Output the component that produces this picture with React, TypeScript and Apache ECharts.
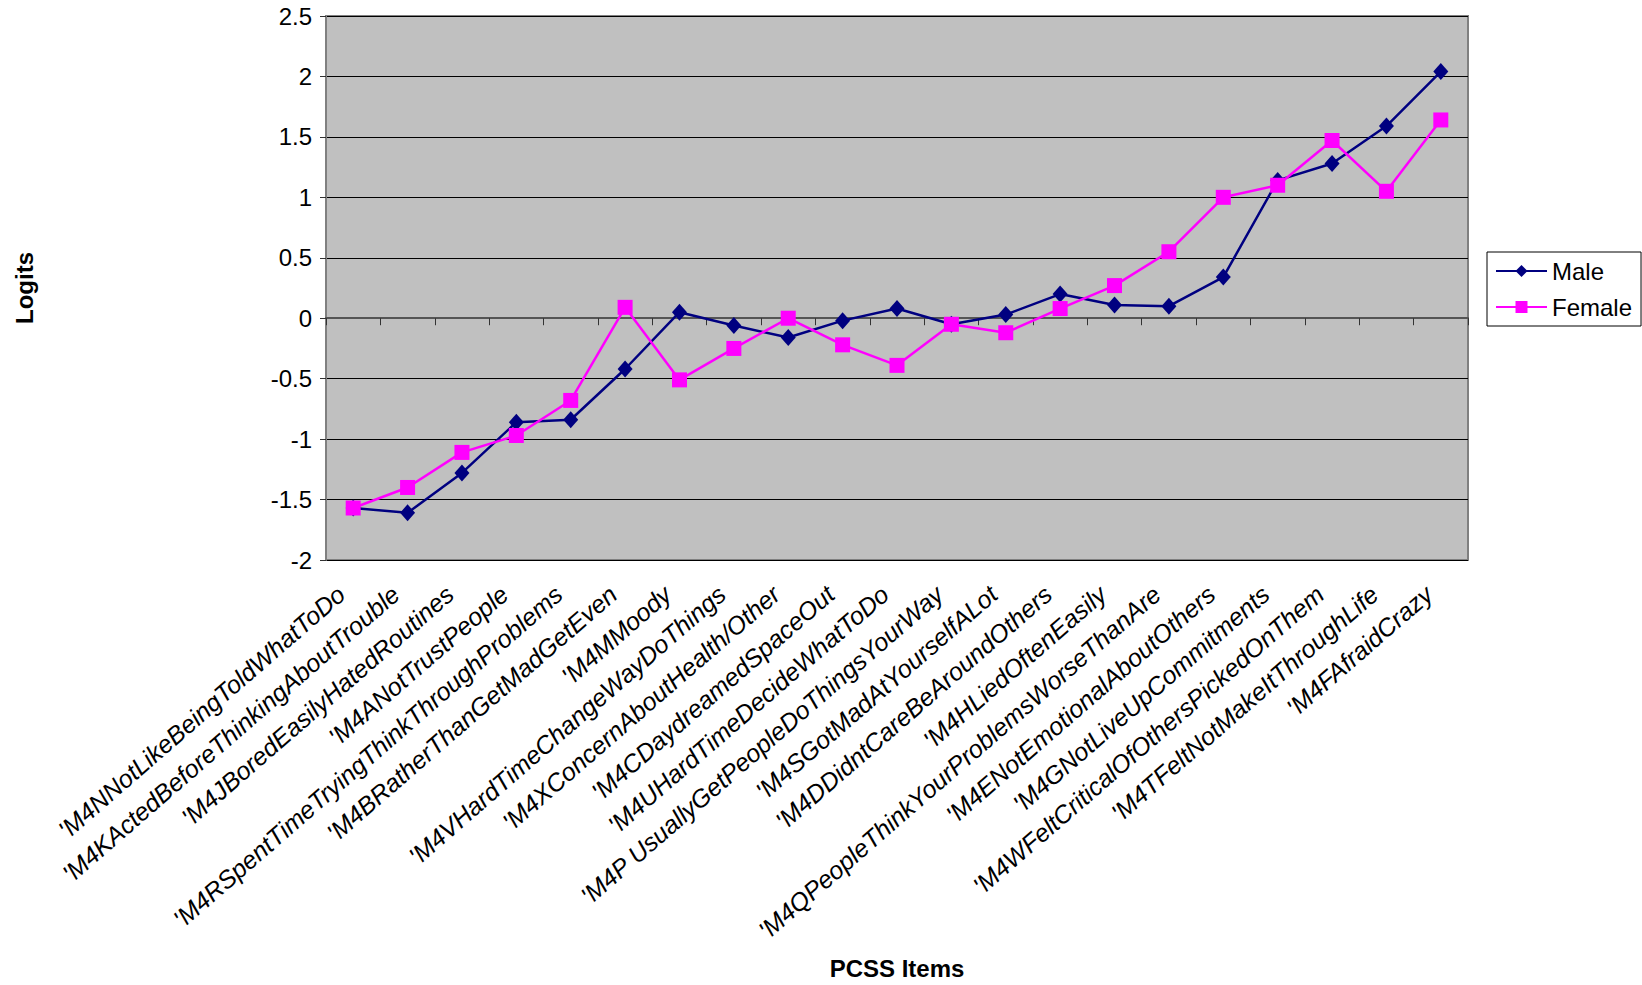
import React, { useEffect, useRef } from "react";
import * as echarts from "echarts";

const categories: string[] = [
  "'M4NNotLikeBeingToldWhatToDo",
  "'M4KActedBeforeThinkingAboutTrouble",
  "'M4JBoredEasilyHatedRoutines",
  "'M4ANotTrustPeople",
  "'M4RSpentTimeTryingThinkThroughProblems",
  "'M4BRatherThanGetMadGetEven",
  "'M4MMoody",
  "'M4VHardTimeChangeWayDoThings",
  "'M4XConcernAboutHealth/Other",
  "'M4CDaydreamedSpaceOut",
  "'M4UHardTimeDecideWhatToDo",
  "'M4P UsuallyGetPeopleDoThingsYourWay",
  "'M4SGotMadAtYourselfALot",
  "'M4DDidntCareBeAroundOthers",
  "'M4HLiedOftenEasily",
  "'M4QPeopleThinkYourProblemsWorseThanAre",
  "'M4ENotEmotionalAboutOthers",
  "'M4GNotLiveUpCommitments",
  "'M4WFeltCriticalOfOthersPickedOnThem",
  "'M4TFeltNotMakeItThroughLife",
  "'M4FAfraidCrazy",
];

const maleValues: number[] = [
  -1.57, -1.61, -1.28, -0.86, -0.84, -0.42, 0.05, -0.06, -0.16, -0.02, 0.08,
  -0.05, 0.03, 0.2, 0.11, 0.1, 0.34, 1.14, 1.28, 1.59, 2.04,
];

const femaleValues: number[] = [
  -1.57, -1.4, -1.11, -0.97, -0.68, 0.09, -0.51, -0.25, 0.0, -0.22, -0.39,
  -0.05, -0.12, 0.08, 0.27, 0.55, 1.0, 1.1, 1.47, 1.05, 1.64,
];

const yMin = -2;
const yMax = 2.5;
const yInterval = 0.5;

const FONT = "'Liberation Sans', Arial, sans-serif";

export default function App() {
  const ref = useRef<HTMLDivElement>(null);

  useEffect(() => {
    if (!ref.current) return;
    const chart = echarts.init(ref.current, undefined, { renderer: "svg" });
    chart.setOption({
      animation: false,
      backgroundColor: "#ffffff",
      textStyle: { fontFamily: FONT, color: "#000" },
      grid: {
        left: 326,
        top: 16,
        width: 1142,
        height: 546,
        show: true,
        backgroundColor: "#C0C0C0",
        borderColor: "#808080",
        borderWidth: 2,
      },
      legend: {
        orient: "vertical",
        left: 1487,
        top: 252,
        itemWidth: 51,
        itemHeight: 15,
        itemGap: 12,
        padding: [7, 9, 7, 8],
        borderColor: "#000",
        borderWidth: 1,
        backgroundColor: "#fff",
        textStyle: { fontSize: 24, fontFamily: FONT, color: "#000" },
        data: ["Male", "Female"],
      },
      xAxis: [
        {
          type: "category",
          data: categories,
          position: "bottom",
          boundaryGap: true,
          axisLine: { show: false, onZero: false },
          axisTick: { show: false },
          splitLine: { show: false },
          axisLabel: {
            interval: 0,
            rotate: 41,
            fontSize: 25,
            fontStyle: "italic",
            fontFamily: FONT,
            color: "#000",
            margin: 20,
            padding: [0, 16, 0, 0],
          },
          name: "PCSS Items",
          nameLocation: "middle",
          nameGap: 396,
          nameTextStyle: { fontSize: 24, fontWeight: "bold", fontStyle: "normal", fontFamily: FONT, color: "#000" },
        },
        {
          type: "category",
          data: categories,
          position: "top",
          boundaryGap: true,
          axisLine: { show: true, onZero: true, lineStyle: { color: "#555", width: 2 } },
          axisTick: { show: true, inside: true, length: 7, interval: 0, lineStyle: { color: "#333", width: 1 } },
          axisLabel: { show: false },
          splitLine: { show: false },
        },
      ],
      yAxis: {
        type: "value",
        min: yMin,
        max: yMax,
        interval: yInterval,
        axisLine: { show: true, lineStyle: { color: "#808080", width: 2 } },
        axisTick: { show: true, length: 6, lineStyle: { color: "#333" } },
        axisLabel: { fontSize: 24, fontFamily: FONT, color: "#000", margin: 14 },
        splitLine: { show: true, lineStyle: { color: "#000", width: 1 } },
        name: "Logits",
        nameLocation: "middle",
        nameRotate: 90,
        nameGap: 290,
        nameTextStyle: { fontSize: 24, fontWeight: "bold", fontFamily: FONT, color: "#000" },
      },
      series: [
        {
          name: "Male",
          type: "line",
          xAxisIndex: 0,
          data: maleValues,
          symbol: "diamond",
          symbolSize: [15, 17],
          showAllSymbol: true,
          itemStyle: { color: "#000080" },
          lineStyle: { color: "#000080", width: 2.5 },
        },
        {
          name: "Female",
          type: "line",
          xAxisIndex: 0,
          data: femaleValues,
          symbol: "rect",
          symbolSize: 15,
          showAllSymbol: true,
          itemStyle: { color: "#FF00FF" },
          lineStyle: { color: "#FF00FF", width: 2.5 },
        },
      ],
    });
    return () => chart.dispose();
  }, []);

  return (
    <div
      ref={ref}
      style={{ position: "absolute", left: 0, top: 0, width: 1642, height: 985 }}
    />
  );
}
